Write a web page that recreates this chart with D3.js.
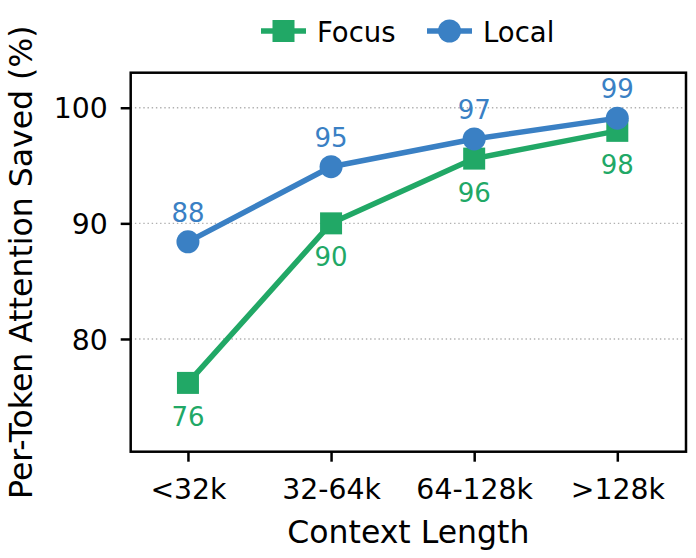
<!DOCTYPE html>
<html>
<head>
<meta charset="utf-8">
<script src="https://cdn.jsdelivr.net/npm/d3@7/dist/d3.min.js"></script>
<style>
  html, body { margin: 0; padding: 0; background: #fff; }
  svg { display: block; font-family: "DejaVu Sans", sans-serif; }
</style>
</head>
<body>
<svg id="chart" width="696" height="558"></svg>
<script>
// ---- data ----
const categories = ["<32k", "32-64k", "64-128k", ">128k"];
const focusValues = [76.2, 90.0, 95.6, 98.0];
const localValues = [88.4, 94.9, 97.3, 99.1];
const seriesNames = ["Focus", "Local"];
const yTicks = [80, 90, 100];

const colors = { Focus: "#21a866", Local: "#3a80c4" };

const svg = d3.select("#chart");
const plotL = 130.7, plotR = 686, plotT = 72.7, plotB = 451.7;

const x = d3.scaleLinear().domain([-0.4, 3.48]).range([plotL, plotR]);
const y = d3.scaleLinear().domain([70.25, 103.03]).range([plotB, plotT]);

// grid
svg.append("g").selectAll("line").data(yTicks).join("line")
  .attr("x1", plotL).attr("x2", plotR)
  .attr("y1", d => y(d)).attr("y2", d => y(d))
  .attr("stroke", "#b0b0b0").attr("stroke-width", 1.4)
  .attr("stroke-dasharray", "1.4,2.8");

// axes
const xAxis = svg.append("g").attr("transform", `translate(0,${plotB})`)
  .call(d3.axisBottom(x).tickValues(categories.map((c, i) => i))
    .tickFormat(i => categories[i]).tickSize(10).tickSizeOuter(0))
  .attr("font-family", "DejaVu Sans");
xAxis.select(".domain").remove();
xAxis.selectAll(".tick line").attr("stroke", "#000").attr("stroke-width", 2.5);
xAxis.selectAll(".tick text").attr("y", 47).attr("dy", 0)
  .attr("font-size", 28.3).attr("fill", "#000");

const yAxis = svg.append("g").attr("transform", `translate(${plotL},0)`)
  .call(d3.axisLeft(y).tickValues(yTicks).tickSize(10).tickPadding(13).tickSizeOuter(0))
  .attr("font-family", "DejaVu Sans");
yAxis.select(".domain").remove();
yAxis.selectAll(".tick line").attr("stroke", "#000").attr("stroke-width", 2.5);
yAxis.selectAll(".tick text").attr("font-size", 28.3).attr("fill", "#000").attr("dy", "0.36em");

// frame
svg.append("rect").attr("x", plotL).attr("y", plotT)
  .attr("width", plotR - plotL).attr("height", plotB - plotT)
  .attr("fill", "none").attr("stroke", "#000").attr("stroke-width", 2.5);

// series
const series = [
  { name: "Focus", values: focusValues, marker: "square", labelDy: 43 },
  { name: "Local", values: localValues, marker: "circle", labelDy: -20 }
];
const line = d3.line().x((d, i) => x(i)).y(d => y(d));

series.forEach(s => {
  const g = svg.append("g");
  g.append("path").datum(s.values).attr("d", line)
    .attr("fill", "none").attr("stroke", colors[s.name]).attr("stroke-width", 5.5)
    .attr("stroke-linejoin", "round");
  if (s.marker === "square") {
    g.selectAll("rect").data(s.values).join("rect")
      .attr("x", (d, i) => x(i) - 11).attr("y", d => y(d) - 11)
      .attr("width", 22).attr("height", 22).attr("fill", colors[s.name]);
  } else {
    g.selectAll("circle").data(s.values).join("circle")
      .attr("cx", (d, i) => x(i)).attr("cy", d => y(d)).attr("r", 11.5)
      .attr("fill", colors[s.name]);
  }
  g.selectAll("text").data(s.values).join("text")
    .attr("x", (d, i) => x(i)).attr("y", d => y(d) + s.labelDy)
    .attr("text-anchor", "middle").attr("font-size", 26)
    .attr("fill", colors[s.name]).text(d => Math.round(d));
});

// axis labels
svg.append("text").attr("x", (plotL + plotR) / 2).attr("y", 543.3)
  .attr("text-anchor", "middle").attr("font-size", 31.5).attr("fill", "#000")
  .text("Context Length");
svg.append("text").attr("transform", `translate(32,${(plotT + plotB) / 2}) rotate(-90)`)
  .attr("text-anchor", "middle").attr("font-size", 31.5).attr("fill", "#000")
  .text("Per-Token Attention Saved (%)");

// legend
const legendX = [261, 427];
seriesNames.forEach((name, i) => {
  const g = svg.append("g").attr("transform", `translate(${legendX[i]},31)`);
  g.append("line").attr("x1", 0).attr("x2", 45).attr("y1", 0).attr("y2", 0)
    .attr("stroke", colors[name]).attr("stroke-width", 5.5);
  if (name === "Focus") {
    g.append("rect").attr("x", 22.5 - 11).attr("y", -11).attr("width", 22).attr("height", 22)
      .attr("fill", colors[name]);
  } else {
    g.append("circle").attr("cx", 22.5).attr("cy", 0).attr("r", 11.5).attr("fill", colors[name]);
  }
  g.append("text").attr("x", 56).attr("y", 11.3).attr("font-size", 27.5).attr("fill", "#000")
    .text(name);
});
</script>
</body>
</html>
